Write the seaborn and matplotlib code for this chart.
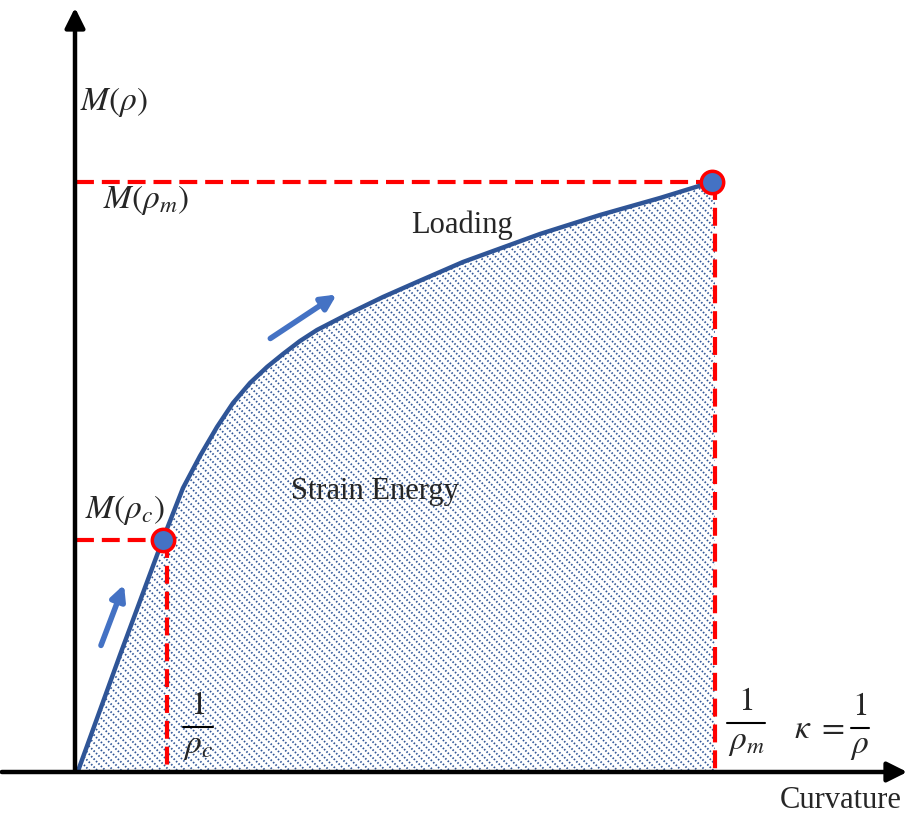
import numpy as np
import pandas as pd
import matplotlib
matplotlib.use("Agg")
import matplotlib.pyplot as plt
import seaborn as sns
from matplotlib.collections import LineCollection
from matplotlib.patches import Polygon

# curva momento-curvatura (unidades del dibujo, origen en 0,0)
curvature = [2, 44, 87, 107, 124, 141, 157, 174, 191, 207, 224, 241, 274, 307, 341, 387, 464, 524, 584, 636]
moment = [0, 116, 232, 283, 315, 344, 368, 388, 404, 417, 430, 441, 458, 474, 489, 509, 537, 556, 573, 589]

# puntos notables
kappa_c, M_c = 87, 231
kappa_m, M_m = 636, 589
kappa_c_line = 91
kappa_m_line = 639

sns.set_theme(style="white")
plt.rcParams["font.family"] = ["Liberation Serif", "DejaVu Serif"]
plt.rcParams["mathtext.fontset"] = "stix"

fig = plt.figure(figsize=(9.11, 8.19), dpi=100)
ax = fig.add_axes([0, 0, 1, 1])
ax.set_xlim(-76, 835)
ax.set_ylim(-48, 771)
ax.axis("off")

curve_blue = "#2F5597"
light_blue = "#4472C4"
red = "#FF0000"

# area rayada (energia de deformacion)
poly = list(zip(curvature, moment)) + [(kappa_m_line, M_m), (kappa_m_line, 0), (0, 0)]
patch = Polygon(poly, closed=True, facecolor="none", edgecolor="none")
ax.add_patch(patch)
segs = []
for c in np.arange(-10, 1300, 8.0):
    segs.append([(c - 800, 800), (c + 800, -800)])
hatch = LineCollection(segs, colors=curve_blue, linewidths=1.3,
                       linestyles=[(0, (0.85, 1.05))])
ax.add_collection(hatch)
hatch.set_clip_path(patch)

# ejes con flechas
ax.annotate("", xy=(-1, 766), xytext=(-1, -2),
            arrowprops=dict(arrowstyle="-|>", lw=3.2, color="black", mutation_scale=30))
ax.annotate("", xy=(834, -1), xytext=(-77, -1),
            arrowprops=dict(arrowstyle="-|>", lw=3.2, color="black", mutation_scale=30))

# lineas rojas discontinuas
dash = (0, (4.3, 1.9))
ax.plot([0, kappa_m], [M_m, M_m], color=red, lw=3, linestyle=dash)
ax.plot([kappa_m_line, kappa_m_line], [M_m, 0], color=red, lw=3, linestyle=dash)
ax.plot([0, kappa_c], [M_c, M_c], color=red, lw=3, linestyle=dash)
ax.plot([kappa_c_line, kappa_c_line], [M_c, 5], color=red, lw=3, linestyle=dash)

# curva
df = pd.DataFrame({"kappa": curvature, "M": moment})
sns.lineplot(data=df, x="kappa", y="M", sort=False, color=curve_blue, lw=3.2, ax=ax)

# puntos
pts = pd.DataFrame({"kappa": [kappa_c, kappa_m], "M": [M_c, M_m]})
sns.scatterplot(data=pts, x="kappa", y="M", s=260, color=light_blue,
                edgecolor=red, linewidth=2.5, zorder=5, ax=ax)
ax.set_xlabel("")
ax.set_ylabel("")

# flechas azules
for tail, head in [((24, 123), (49, 189)), ((192, 431), (263, 478))]:
    ax.annotate("", xy=head, xytext=tail,
                arrowprops=dict(arrowstyle="-|>", lw=4, color=light_blue, mutation_scale=22))

# textos
fs = 24
ax.text(4, 669, r"$M(\rho)$", fontsize=fs, ha="left", va="center")
ax.text(27, 571, r"$M(\rho_m)$", fontsize=fs, ha="left", va="center")
ax.text(9, 261, r"$M(\rho_c)$", fontsize=fs, ha="left", va="center")
ax.text(386, 546, "Loading", fontsize=22, ha="center", va="center")
ax.text(299, 279, "Strain Energy", fontsize=22, ha="center", va="center")
ax.text(765, -29, "Curvature", fontsize=22, ha="center", va="center")


def fraccion(xc, ybar, den, half):
    ax.text(xc, ybar + 6, r"$1$", fontsize=fs, ha="center", va="bottom")
    ax.plot([xc - half, xc + half], [ybar, ybar], color="black", lw=1.5)
    ax.text(xc, ybar - 4, den, fontsize=fs, ha="center", va="top")


fraccion(122, 44, r"$\rho_c$", 15)
fraccion(670, 48, r"$\rho_m$", 19)
fraccion(784, 43, r"$\rho$", 9)
ax.text(727, 41, r"$\kappa$", fontsize=fs, ha="center", va="center")
ax.text(755, 43, r"$=$", fontsize=fs, ha="center", va="center")

fig.savefig("out.png", dpi=100)
